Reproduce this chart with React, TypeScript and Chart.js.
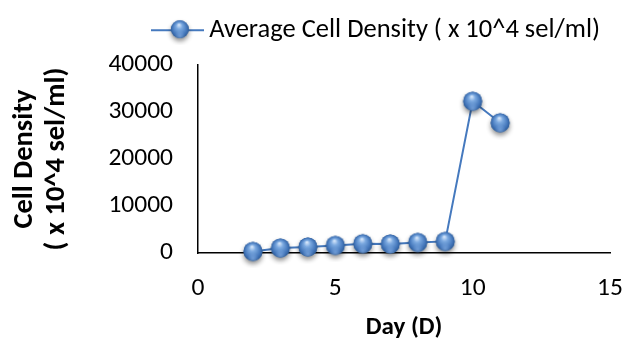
import React, { useEffect, useRef } from 'react';
import { Chart, registerables } from 'chart.js';

Chart.register(...registerables);

const days = [2, 3, 4, 5, 6, 7, 8, 9, 10, 11];
const density = [340, 1060, 1280, 1620, 1980, 1920, 2260, 2470, 32300, 27700];
const xTickValues = [0, 5, 10, 15];
const yTickValues = [0, 10000, 20000, 30000, 40000];
const seriesLabel = 'Average Cell Density ( x 10^4 sel/ml)';
const xTitle = 'Day (D)';
const yTitle = ['Cell Density', '( x 10^4 sel/ml)'];

const LINE_COLOR = '#4579BE';
const FONT = 'Carlito, Lato, sans-serif';

function drawSphere(ctx: CanvasRenderingContext2D, cx: number, cy: number, r: number) {
  ctx.save();
  ctx.shadowColor = 'rgba(0,0,0,0.45)';
  ctx.shadowBlur = 5;
  ctx.shadowOffsetY = 3;
  ctx.beginPath();
  ctx.arc(cx, cy, r, 0, Math.PI * 2);
  ctx.fillStyle = '#3a6aa8';
  ctx.fill();
  ctx.restore();
  const g = ctx.createRadialGradient(cx - r * 0.1, cy - r * 0.5, r * 0.05, cx, cy, r * 1.05);
  g.addColorStop(0, '#d4e5fa');
  g.addColorStop(0.3, '#7ba9e0');
  g.addColorStop(0.75, '#4477bb');
  g.addColorStop(1, '#2b5893');
  ctx.beginPath();
  ctx.arc(cx, cy, r, 0, Math.PI * 2);
  ctx.fillStyle = g;
  ctx.fill();
  const g2 = ctx.createRadialGradient(cx, cy + r * 0.75, 0, cx, cy + r * 0.75, r * 0.6);
  g2.addColorStop(0, 'rgba(150,190,240,0.55)');
  g2.addColorStop(1, 'rgba(150,190,240,0)');
  ctx.beginPath();
  ctx.arc(cx, cy, r, 0, Math.PI * 2);
  ctx.fillStyle = g2;
  ctx.fill();
}

function makeSphere(): HTMLCanvasElement {
  const c = document.createElement('canvas');
  c.width = 34;
  c.height = 34;
  const ctx = c.getContext('2d')!;
  drawSphere(ctx, 17, 17, 9.5);
  return c;
}

function makeLegendMarker(): HTMLCanvasElement {
  const c = document.createElement('canvas');
  c.width = 53;
  c.height = 30;
  const ctx = c.getContext('2d')!;
  ctx.strokeStyle = LINE_COLOR;
  ctx.lineWidth = 2;
  ctx.beginPath();
  ctx.moveTo(0, 15);
  ctx.lineTo(53, 15);
  ctx.stroke();
  drawSphere(ctx, 29, 14, 9);
  return c;
}

export default function App() {
  const ref = useRef<HTMLCanvasElement | null>(null);

  useEffect(() => {
    if (!ref.current) return;
    Chart.defaults.font.family = FONT;
    Chart.defaults.color = '#000';
    const sphere = makeSphere();
    const legendMarker = makeLegendMarker();

    const legendGap = {
      id: 'legendGap',
      afterInit(chart: any) {
        const lg = chart.legend;
        if (!lg) return;
        const fit = lg.fit.bind(lg);
        lg.fit = () => {
          fit();
          lg.height = 58;
        };
      },
    };

    const chart = new Chart(ref.current, {
      type: 'line',
      data: {
        datasets: [
          {
            label: seriesLabel,
            data: days.map((d, i) => ({ x: d, y: density[i] })),
            borderColor: LINE_COLOR,
            backgroundColor: LINE_COLOR,
            borderWidth: 2,
            pointStyle: sphere as any,
            pointRadius: 9,
            tension: 0,
            clip: false as any,
          },
        ],
      },
      options: {
        responsive: false,
        animation: false,
        layout: { padding: { left: 0, right: 13, top: 7, bottom: 0 } },
        plugins: {
          legend: {
            display: true,
            position: 'top',
            align: 'end',
            labels: {
              usePointStyle: true,
              pointStyle: legendMarker as any,
              pointStyleWidth: 37,
              color: '#000',
              padding: 10,
              font: { size: 26.5, family: FONT },
            },
          },
          tooltip: { enabled: false },
        },
        scales: {
          x: {
            type: 'linear',
            min: xTickValues[0],
            max: xTickValues[xTickValues.length - 1],
            afterBuildTicks: (s: any) => {
              s.ticks = xTickValues.map((v) => ({ value: v }));
            },
            afterFit: (s: any) => {
              s.height = 87;
              s.paddingLeft = 0;
              s.paddingRight = 0;
            },
            grid: { display: false, drawTicks: false },
            border: { display: true, color: '#000', width: 1.5 },
            ticks: {
              padding: 20,
              color: '#000',
              font: { size: 25.5, family: FONT },
              callback: (v: any) => String(v),
            },
            title: {
              display: true,
              text: xTitle,
              color: '#000',
              font: { size: 25, weight: 'bold', family: FONT, lineHeight: 1 },
              padding: { top: 0, bottom: 0 },
            },
          },
          y: {
            type: 'linear',
            min: yTickValues[0],
            max: yTickValues[yTickValues.length - 1],
            afterBuildTicks: (s: any) => {
              s.ticks = yTickValues.map((v) => ({ value: v }));
            },
            afterFit: (s: any) => {
              s.width = 198;
            },
            grid: { display: false, drawTicks: false },
            border: { display: true, color: '#000', width: 1.5 },
            ticks: {
              padding: 25,
              color: '#000',
              font: { size: 25.5, family: FONT },
              callback: (v: any) => String(v),
            },
            title: {
              display: true,
              text: yTitle,
              color: '#000',
              font: { size: 28.5, weight: 'bold', family: FONT, lineHeight: 32 / 28.5 },
              padding: { top: 9, bottom: 0 },
            },
          },
        },
      },
      plugins: [legendGap],
    });
    return () => chart.destroy();
  }, []);

  return (
    <div style={{ position: 'fixed', left: 0, top: 0, width: 623, height: 340, background: '#fff' }}>
      <canvas ref={ref} width={623} height={340} style={{ display: 'block' }} />
    </div>
  );
}
